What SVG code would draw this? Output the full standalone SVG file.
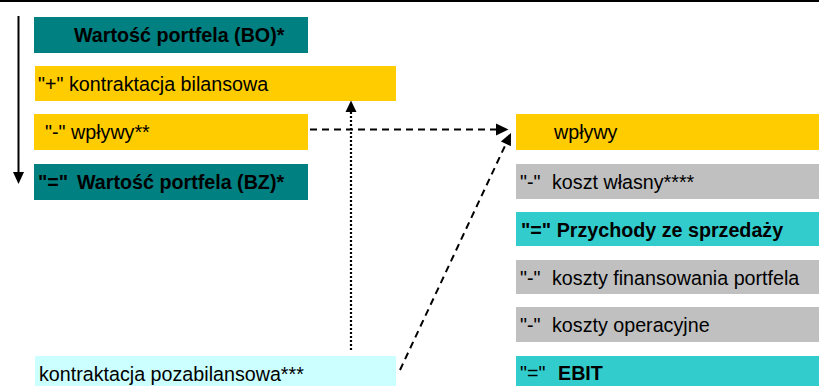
<svg xmlns="http://www.w3.org/2000/svg" width="819" height="386" viewBox="0 0 819 386">
<style>
text{font-family:"Liberation Sans",Arial,sans-serif;font-size:19.7px;fill:#000}
.b{font-weight:bold}
.teal{fill:#008080}
.yel{fill:#FFCC00}
.gray{fill:#C0C0C0}
.cyan{fill:#33CCCC}
.lcyan{fill:#CCFFFF}
.dash{fill:none;stroke:#000;stroke-width:2;stroke-dasharray:7 5}
.dot{fill:none;stroke:#000;stroke-width:2.2;stroke-dasharray:2 2}
.solid{fill:none;stroke:#000;stroke-width:2}
.head{fill:#000}
</style>
<rect x="0" y="0" width="819" height="2" fill="#000"/>
<g id="bo"><rect class="teal" x="34" y="17" width="274" height="36"/><text class="b" x="74" y="41.5">Wartość portfela (BO)*</text></g>
<g id="kontraktacja-bilansowa"><rect class="yel" x="35" y="66" width="361" height="35"/><text x="38" y="90.5">"+" kontraktacja bilansowa</text></g>
<g id="wplywy-left"><rect class="yel" x="34" y="114" width="274" height="36"/><text x="45" y="139">"-" wpływy**</text></g>
<g id="bz"><rect class="teal" x="34" y="164" width="274" height="36"/><text class="b" x="38" y="188.5">"="<tspan x="77">Wartość portfela (BZ)*</tspan></text></g>
<g id="kontraktacja-pozabilansowa"><rect class="lcyan" x="35" y="356" width="361" height="30"/><text x="39" y="381">kontraktacja pozabilansowa***</text></g>
<g id="wplywy-right"><rect class="yel" x="516" y="114" width="303" height="36"/><text x="554" y="139">wpływy</text></g>
<g id="koszt-wlasny"><rect class="gray" x="516" y="164" width="303" height="35"/><text x="520" y="188.5">"-"<tspan x="552">koszt własny****</tspan></text></g>
<g id="przychody"><rect class="cyan" x="516" y="212" width="303" height="34"/><text class="b" x="521" y="236.5">"=" Przychody ze sprzedaży</text></g>
<g id="koszty-finansowania"><rect class="gray" x="516" y="260" width="303" height="34"/><text x="520" y="284.5">"-"<tspan x="552">koszty finansowania portfela</tspan></text></g>
<g id="koszty-operacyjne"><rect class="gray" x="516" y="307" width="303" height="35"/><text x="520" y="331.5">"-"<tspan x="552">koszty operacyjne</tspan></text></g>
<g id="ebit"><rect class="cyan" x="516" y="356" width="303" height="30"/><text x="520" y="380">"="<tspan class="b" x="558">EBIT</tspan></text></g>
<g id="connectors">
<line class="solid" x1="18.5" y1="16" x2="18.5" y2="173"/>
<polygon class="head" points="13,172 24,172 18.5,184"/>
<line class="dot" x1="351" y1="350" x2="351" y2="112"/>
<polygon class="head" points="345.5,112 356.5,112 351,100.5"/>
<line class="dash" x1="310" y1="129.5" x2="496" y2="129.5"/>
<polygon class="head" points="496,123.5 496,135.5 508.5,129.5"/>
<line class="dash" x1="400" y1="370" x2="505.9" y2="143.9"/>
<polygon class="head" points="510.9,146.2 500.9,141.6 511,133"/>
</g>
</svg>
